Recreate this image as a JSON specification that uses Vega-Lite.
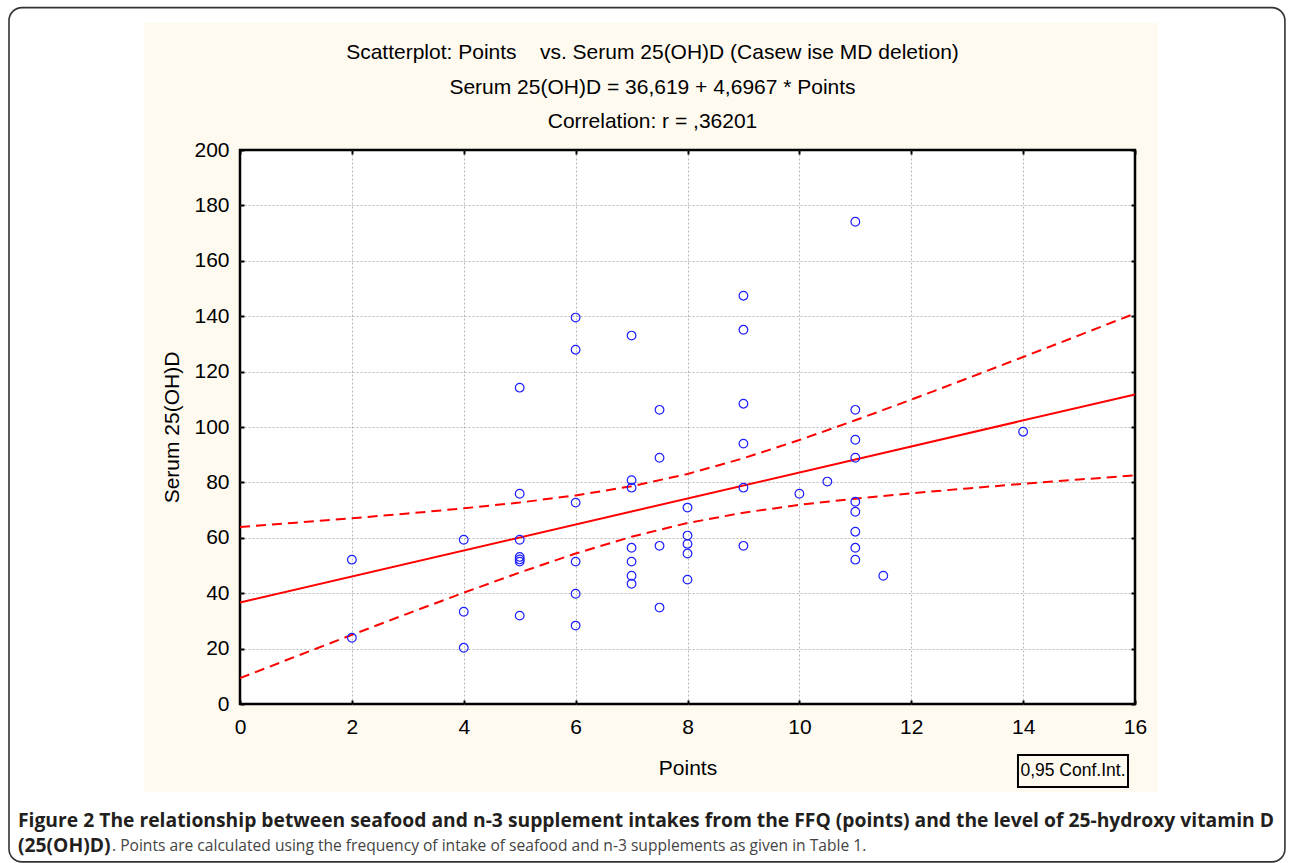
{
  "$schema": "https://vega.github.io/schema/vega-lite/v6.json",
  "width": 895,
  "height": 554,
  "autosize": {"type": "none"},
  "padding": {"left": 240, "top": 150, "right": 155, "bottom": 159},
  "background": "#FFFAF0",
  "config": {
    "view": {"fill": "white", "stroke": "black", "strokeWidth": 2.5},
    "font": "Liberation Sans"
  },
  "datasets": {
    "points": [
      {"points": 2, "serum": 52.1}, {"points": 2, "serum": 23.9},
      {"points": 4, "serum": 59.3}, {"points": 4, "serum": 33.3}, {"points": 4, "serum": 20.3},
      {"points": 5, "serum": 114.2}, {"points": 5, "serum": 75.9}, {"points": 5, "serum": 59.3}, {"points": 5, "serum": 53.1}, {"points": 5, "serum": 52.2}, {"points": 5, "serum": 51.4}, {"points": 5, "serum": 31.9},
      {"points": 6, "serum": 139.5}, {"points": 6, "serum": 127.9}, {"points": 6, "serum": 72.7}, {"points": 6, "serum": 51.4}, {"points": 6, "serum": 39.8}, {"points": 6, "serum": 28.3},
      {"points": 7, "serum": 133.0}, {"points": 7, "serum": 80.8}, {"points": 7, "serum": 78.1}, {"points": 7, "serum": 56.4}, {"points": 7, "serum": 51.4}, {"points": 7, "serum": 46.3}, {"points": 7, "serum": 43.4},
      {"points": 7.5, "serum": 106.2}, {"points": 7.5, "serum": 88.9}, {"points": 7.5, "serum": 57.1}, {"points": 7.5, "serum": 34.8},
      {"points": 8, "serum": 70.9}, {"points": 8, "serum": 60.8}, {"points": 8, "serum": 57.8}, {"points": 8, "serum": 54.3}, {"points": 8, "serum": 44.9},
      {"points": 9, "serum": 147.4}, {"points": 9, "serum": 135.1}, {"points": 9, "serum": 108.4}, {"points": 9, "serum": 94.0}, {"points": 9, "serum": 78.1}, {"points": 9, "serum": 57.1},
      {"points": 10, "serum": 75.9},
      {"points": 10.5, "serum": 80.3},
      {"points": 11, "serum": 174.1}, {"points": 11, "serum": 106.2}, {"points": 11, "serum": 95.4}, {"points": 11, "serum": 88.9}, {"points": 11, "serum": 73.0}, {"points": 11, "serum": 69.4}, {"points": 11, "serum": 62.2}, {"points": 11, "serum": 56.4}, {"points": 11, "serum": 52.1},
      {"points": 11.5, "serum": 46.3},
      {"points": 14, "serum": 98.3}
    ],
    "fit": [{"x": 0, "y": 36.619}, {"x": 16, "y": 111.766}],
    "ci": [
      {"x": 0, "v": 63.91, "bound": "upper"},
      {"x": 1, "v": 65.46, "bound": "upper"},
      {"x": 2, "v": 67.06, "bound": "upper"},
      {"x": 3, "v": 68.77, "bound": "upper"},
      {"x": 4, "v": 70.63, "bound": "upper"},
      {"x": 5, "v": 72.73, "bound": "upper"},
      {"x": 6, "v": 75.29, "bound": "upper"},
      {"x": 7, "v": 78.61, "bound": "upper"},
      {"x": 8, "v": 83.04, "bound": "upper"},
      {"x": 9, "v": 88.71, "bound": "upper"},
      {"x": 10, "v": 95.29, "bound": "upper"},
      {"x": 11, "v": 102.42, "bound": "upper"},
      {"x": 12, "v": 109.88, "bound": "upper"},
      {"x": 13, "v": 117.52, "bound": "upper"},
      {"x": 14, "v": 125.27, "bound": "upper"},
      {"x": 15, "v": 133.10, "bound": "upper"},
      {"x": 16, "v": 140.98, "bound": "upper"},
      {"x": 0, "v": 9.33, "bound": "lower"},
      {"x": 1, "v": 17.17, "bound": "lower"},
      {"x": 2, "v": 24.96, "bound": "lower"},
      {"x": 3, "v": 32.65, "bound": "lower"},
      {"x": 4, "v": 40.19, "bound": "lower"},
      {"x": 5, "v": 47.47, "bound": "lower"},
      {"x": 6, "v": 54.31, "bound": "lower"},
      {"x": 7, "v": 60.39, "bound": "lower"},
      {"x": 8, "v": 65.34, "bound": "lower"},
      {"x": 9, "v": 69.07, "bound": "lower"},
      {"x": 10, "v": 71.89, "bound": "lower"},
      {"x": 11, "v": 74.14, "bound": "lower"},
      {"x": 12, "v": 76.08, "bound": "lower"},
      {"x": 13, "v": 77.84, "bound": "lower"},
      {"x": 14, "v": 79.47, "bound": "lower"},
      {"x": 15, "v": 81.04, "bound": "lower"},
      {"x": 16, "v": 82.56, "bound": "lower"}
    ]
  },
  "layer": [
    {
      "data": {"values": [{}]},
      "mark": {"type": "rect", "color": "white"},
      "encoding": {
        "x": {"datum": -4.4, "scale": {"domain": [0, 16], "nice": false, "zero": false}, "axis": null},
        "x2": {"datum": 18.9},
        "y": {"datum": 258, "scale": {"domain": [0, 200], "nice": false, "zero": false}, "axis": null},
        "y2": {"datum": 245.85}
      }
    },
    {
      "data": {"values": [{}]},
      "mark": {"type": "rect", "color": "white"},
      "encoding": {
        "x": {"datum": -4.4, "scale": {"domain": [0, 16], "nice": false, "zero": false}, "axis": null},
        "x2": {"datum": 18.9},
        "y": {"datum": -31.77, "scale": {"domain": [0, 200], "nice": false, "zero": false}, "axis": null},
        "y2": {"datum": -60}
      }
    },
    {
      "data": {"values": [{}]},
      "mark": {"type": "rect", "color": "white"},
      "encoding": {
        "x": {"datum": -4.4, "scale": {"domain": [0, 16], "nice": false, "zero": false}, "axis": null},
        "x2": {"datum": -1.7162},
        "y": {"datum": 258, "scale": {"domain": [0, 200], "nice": false, "zero": false}, "axis": null},
        "y2": {"datum": -60}
      }
    },
    {
      "data": {"values": [{}]},
      "mark": {"type": "rect", "color": "white"},
      "encoding": {
        "x": {"datum": 16.4112, "scale": {"domain": [0, 16], "nice": false, "zero": false}, "axis": null},
        "x2": {"datum": 18.9},
        "y": {"datum": 258, "scale": {"domain": [0, 200], "nice": false, "zero": false}, "axis": null},
        "y2": {"datum": -60}
      }
    },
    {
      "data": {"values": [{}]},
      "mark": {"type": "rect", "fill": null, "fillOpacity": 0, "stroke": "#333333", "strokeWidth": 1.6, "cornerRadius": 13},
      "encoding": {
        "x": {"datum": -4.1296, "scale": {"domain": [0, 16], "nice": false, "zero": false}, "axis": null},
        "x2": {"datum": 18.68},
        "y": {"datum": 251.4, "scale": {"domain": [0, 200], "nice": false, "zero": false}, "axis": null},
        "y2": {"datum": -57.0}
      }
    },
    {
      "data": {"values": [{}]},
      "mark": {"type": "rect", "fill": "#FFFAF0", "stroke": "black", "strokeWidth": 2},
      "encoding": {
        "x": {"datum": 13.908, "scale": {"domain": [0, 16], "nice": false, "zero": false}, "axis": null},
        "x2": {"datum": 15.875},
        "y": {"datum": -18.41, "scale": {"domain": [0, 200], "nice": false, "zero": false}, "axis": null},
        "y2": {"datum": -29.96}
      }
    },
    {
      "data": {"values": [{"t": "0,95 Conf.Int."}]},
      "mark": {"type": "text", "align": "center", "baseline": "middle", "font": "Liberation Sans", "fontSize": 17.5, "color": "black"},
      "encoding": {
        "text": {"field": "t", "type": "nominal"},
        "x": {"datum": 14.891, "scale": {"domain": [0, 16], "nice": false, "zero": false}, "axis": null},
        "y": {"datum": -24.19, "scale": {"domain": [0, 200], "nice": false, "zero": false}, "axis": null}
      }
    },
    {
      "data": {"name": "ci"},
      "mark": {"type": "line", "color": "#ff0000", "strokeWidth": 2, "strokeDash": [10, 6]},
      "encoding": {
        "x": {"field": "x", "type": "quantitative", "scale": {"domain": [0, 16], "nice": false, "zero": false}, "axis": null},
        "y": {"field": "v", "type": "quantitative", "scale": {"domain": [0, 200], "nice": false, "zero": false}, "axis": null},
        "detail": {"field": "bound", "type": "nominal"}
      }
    },
    {
      "data": {"name": "fit"},
      "mark": {"type": "line", "color": "#ff0000", "strokeWidth": 2},
      "encoding": {
        "x": {
          "field": "x", "type": "quantitative",
          "scale": {"domain": [0, 16], "nice": false, "zero": false},
          "axis": {
            "orient": "top", "values": [0, 2, 4, 6, 8, 10, 12, 14, 16],
            "labels": false, "ticks": true, "tickSize": -4, "tickColor": "black", "tickWidth": 2,
            "domain": false, "grid": false,
            "title": ["Scatterplot: Points\u00a0\u00a0\u00a0 vs. Serum 25(OH)D (Casew ise MD deletion)", "Serum 25(OH)D = 36,619 + 4,6967 * Points", "Correlation: r = ,36201"],
            "titleFont": "Liberation Sans", "titleFontSize": 21, "titleFontWeight": "normal", "titleColor": "black",
            "titleLineHeight": 34.5, "titleX": 412, "titleY": -108.5, "titleBaseline": "top", "titleAlign": "center"
          }
        },
        "y": {
          "field": "y", "type": "quantitative",
          "scale": {"domain": [0, 200], "nice": false, "zero": false},
          "axis": {
            "orient": "right", "values": [0, 20, 40, 60, 80, 100, 120, 140, 160, 180, 200],
            "labels": false, "ticks": true, "tickSize": -4, "tickColor": "black", "tickWidth": 2,
            "domain": false, "grid": false, "title": null
          }
        }
      }
    },
    {
      "data": {"name": "points"},
      "mark": {"type": "point", "shape": "circle", "filled": false, "color": "#1f1fff", "size": 75, "strokeWidth": 1.2, "opacity": 1},
      "encoding": {
        "x": {
          "field": "points", "type": "quantitative",
          "scale": {"domain": [0, 16], "nice": false, "zero": false},
          "axis": {
            "orient": "bottom", "values": [0, 2, 4, 6, 8, 10, 12, 14, 16],
            "labelFont": "Liberation Sans", "labelFontSize": 21, "labelColor": "black", "labelFlush": false,
            "labelPadding": 16, "ticks": true, "tickSize": -4, "tickColor": "black", "tickWidth": 2,
            "domain": false,
            "grid": true, "gridColor": "#b8b8b8", "gridDash": [2, 2], "gridWidth": 1,
            "gridOpacity": {"condition": {"test": "datum.value == 0 || datum.value == 16", "value": 0}, "value": 1},
            "title": "Points", "titleFont": "Liberation Sans", "titleFontSize": 21, "titleFontWeight": "normal", "titleColor": "black",
            "titleY": 64, "titleBaseline": "middle"
          }
        },
        "y": {
          "field": "serum", "type": "quantitative",
          "scale": {"domain": [0, 200], "nice": false, "zero": false},
          "axis": {
            "orient": "left", "values": [0, 20, 40, 60, 80, 100, 120, 140, 160, 180, 200],
            "labelFont": "Liberation Sans", "labelFontSize": 21, "labelColor": "black",
            "labelPadding": 15, "ticks": true, "tickSize": -4, "tickColor": "black", "tickWidth": 2,
            "domain": false,
            "grid": true, "gridColor": "#b8b8b8", "gridDash": [2, 2], "gridWidth": 1,
            "gridOpacity": {"condition": {"test": "datum.value == 0 || datum.value == 200", "value": 0}, "value": 1},
            "title": "Serum 25(OH)D", "titleFont": "Liberation Sans", "titleFontSize": 21, "titleFontWeight": "normal", "titleColor": "black",
            "titleX": -68, "titleY": 277, "titleAngle": -90, "titleBaseline": "middle", "titleAlign": "center"
          }
        }
      }
    },
    {
      "data": {"values": [{"t": "Figure 2 The relationship between seafood and n-3 supplement intakes from the FFQ (points) and the level of 25-hydroxy vitamin D"}]},
      "mark": {"type": "text", "align": "left", "baseline": "middle", "font": "Open Sans", "fontSize": 19.3, "fontWeight": "bold", "color": "#231f20"},
      "encoding": {
        "text": {"field": "t", "type": "nominal"},
        "x": {"datum": -3.9687, "scale": {"domain": [0, 16], "nice": false, "zero": false}, "axis": null},
        "y": {"datum": -42.24, "scale": {"domain": [0, 200], "nice": false, "zero": false}, "axis": null}
      }
    },
    {
      "data": {"values": [{"t": "(25(OH)D)"}]},
      "mark": {"type": "text", "align": "left", "baseline": "middle", "font": "Open Sans", "fontSize": 19.3, "fontWeight": "bold", "color": "#231f20"},
      "encoding": {
        "text": {"field": "t", "type": "nominal"},
        "x": {"datum": -3.9687, "scale": {"domain": [0, 16], "nice": false, "zero": false}, "axis": null},
        "y": {"datum": -51.26, "scale": {"domain": [0, 200], "nice": false, "zero": false}, "axis": null}
      }
    },
    {
      "data": {"values": [{"t": ". Points are calculated using the frequency of intake of seafood and n-3 supplements as given in Table 1."}]},
      "mark": {"type": "text", "align": "left", "baseline": "middle", "font": "Open Sans", "fontSize": 15.6, "fontWeight": "normal", "color": "#444444"},
      "encoding": {
        "text": {"field": "t", "type": "nominal"},
        "x": {"datum": -2.288, "scale": {"domain": [0, 16], "nice": false, "zero": false}, "axis": null},
        "y": {"datum": -51.26, "scale": {"domain": [0, 200], "nice": false, "zero": false}, "axis": null}
      }
    }
  ],
  "resolve": {"axis": {"x": "independent", "y": "independent"}}
}
